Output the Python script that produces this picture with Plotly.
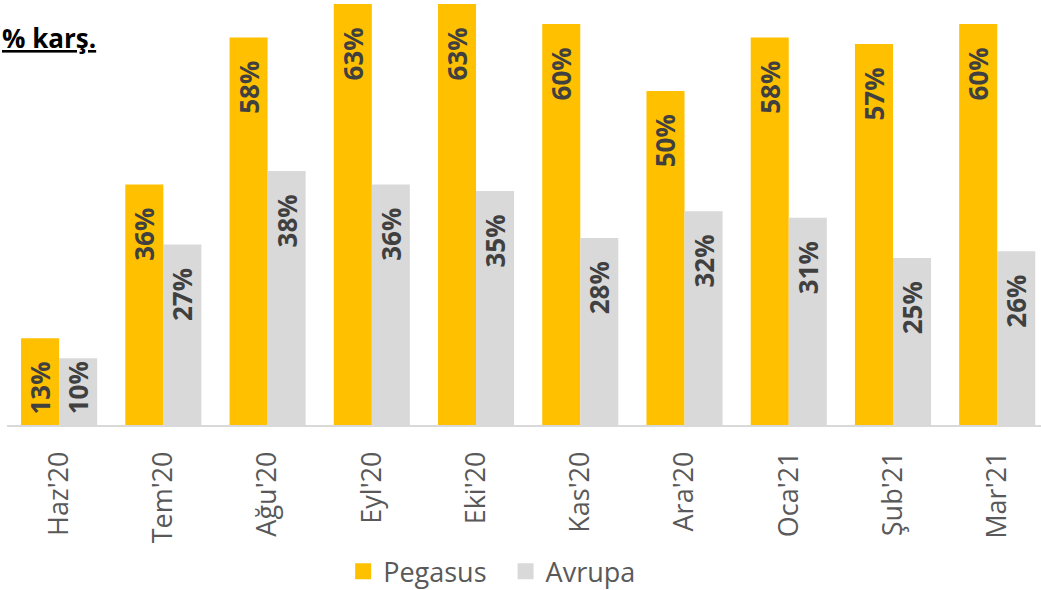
import plotly.graph_objects as go

categories = ["Haz'20", "Tem'20", "Ağu'20", "Eyl'20", "Eki'20", "Kas'20", "Ara'20", "Oca'21", "Şub'21", "Mar'21"]
pegasus = [13, 36, 58, 63, 63, 60, 50, 58, 57, 60]
avrupa = [10, 27, 38, 36, 35, 28, 32, 31, 25, 26]

FONT = "Open Sans"


def label(v):
    pad = "\u00a0\u00a0\u00a0" if v >= 12 else ""
    return f"{v}%{pad}"


fig = go.Figure()
for name, vals, color in [("Pegasus", pegasus, "#FFC000"), ("Avrupa", avrupa, "#D9D9D9")]:
    fig.add_trace(go.Bar(
        x=categories, y=vals, name=name, marker_color=color, marker_line_width=0,
        text=[label(v) for v in vals], textposition="inside", insidetextanchor="end",
        textangle=-90, constraintext="none", showlegend=False, cliponaxis=False,
        textfont=dict(family=FONT, size=26, color="#404040", weight="bold"),
        hoverinfo="skip",
    ))
    fig.add_trace(go.Scatter(
        x=[None], y=[None], mode="markers", name=name + "\u00a0\u00a0",
        marker=dict(symbol="square", size=16, color=color), hoverinfo="skip",
    ))

fig.update_layout(
    width=1041, height=590,
    margin=dict(l=7, r=0, t=0, b=165, autoexpand=False),
    paper_bgcolor="white", plot_bgcolor="white",
    barmode="group", bargap=0.27, bargroupgap=0,
    uniformtext=dict(minsize=26, mode="show"),
    showlegend=True,
    legend=dict(orientation="h", x=0.476, xanchor="center", y=-0.345, yanchor="middle",
                font=dict(family=FONT, size=27, color="#595959"), itemsizing="trace",
                traceorder="normal", itemwidth=30),
    xaxis=dict(range=[-0.5, 9.42], tickangle=-90, showline=True, linecolor="#D9D9D9", linewidth=1.5,
               tickfont=dict(family=FONT, size=27, color="#595959"), ticks="", showgrid=False,
               ticklabelstandoff=14, automargin=False),
    yaxis=dict(range=[0, 63.6], visible=False, showgrid=False, zeroline=False, automargin=False),
    annotations=[dict(text="<b><u>% karş.</u></b>", xref="paper", yref="paper", x=-7/1034, y=1 - 38/425,
                      xanchor="left", yanchor="middle", showarrow=False,
                      font=dict(family=FONT, size=26, color="black"))],
)

fig.write_html("out.html", config={"displayModeBar": False},
               post_script="document.body.style.margin='0';document.body.style.padding='0';")
